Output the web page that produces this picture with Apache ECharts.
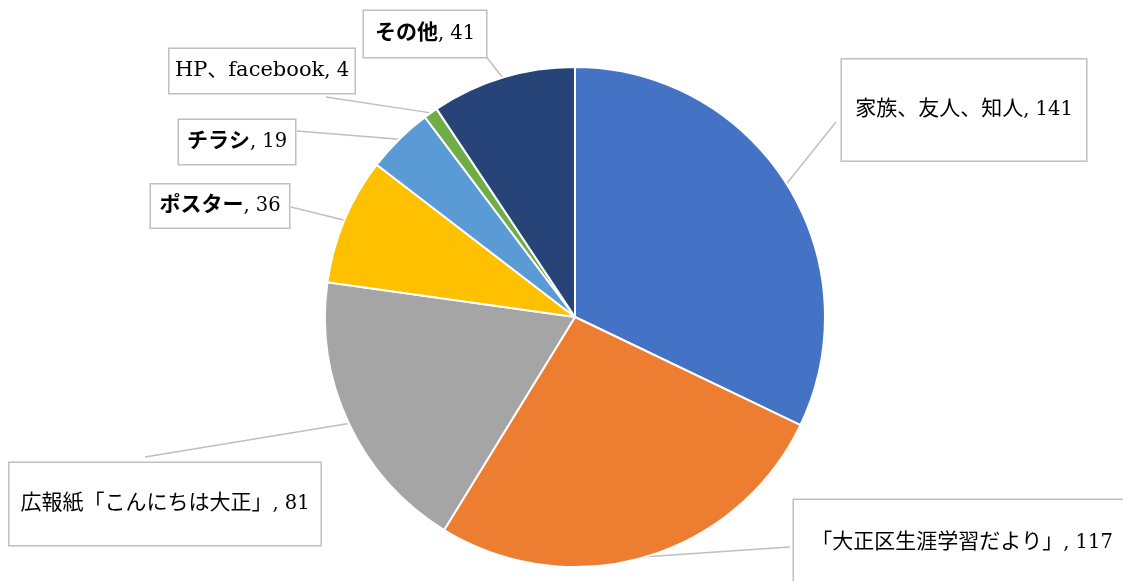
<!DOCTYPE html>
<html>
<head>
<meta charset="utf-8">
<script src="https://cdn.jsdelivr.net/npm/echarts@6/dist/echarts.min.js"></script>
<style>
  html, body { margin: 0; padding: 0; background: #fff; }
  #chart { width: 1123px; height: 581px; }
</style>
</head>
<body>
<div id="chart"></div>
<script>
    // 項目名と件数（12時から時計回り）
    var categories = ['家族、友人、知人', '「大正区生涯学習だより」', '広報紙「こんにちは大正」', 'ポスター', 'チラシ', 'HP、facebook', 'その他'];
    var counts = [141, 117, 81, 36, 19, 4, 41];
    var colors = ['#4472C4', '#ED7D31', '#A5A5A5', '#FFC000', '#5B9BD5', '#70AD47', '#264478'];
    var boldNames = ['ポスター', 'チラシ', 'その他'];

    // ラベル枠の配置（中心・大きさ・引き出し線の終点）
    var labelBoxes = [
        {x: 964, y: 110, w: 246, h: 103, lx: 836, ly: 122},
        {x: 962, y: 543, w: 338, h: 88, lx: 790, ly: 547},
        {x: 165, y: 504, w: 313, h: 84, lx: 145, ly: 457},
        {x: 220, y: 206, w: 140, h: 45, lx: 291, ly: 207},
        {x: 237, y: 142, w: 118, h: 46, lx: 297, ly: 131},
        {x: 262, y: 71, w: 187, h: 46, lx: 326, ly: 97},
        {x: 425, y: 34, w: 124, h: 48, lx: 481, ly: 50}
    ];

    var serif = '"DejaVu Serif", "Noto Sans CJK JP", serif';
    var myChart = echarts.init(document.getElementById('chart'));
    var pieData = categories.map(function (name, i) {
        var b = labelBoxes[i];
        return {
            name: name,
            value: counts[i],
            itemStyle: {color: colors[i]},
            label: {
                width: b.w - 2,
                rich: {
                    n: {
                        fontFamily: serif,
                        fontSize: 21,
                        lineHeight: b.h - 2,
                        fontWeight: boldNames.indexOf(name) >= 0 ? 'bold' : 'normal',
                        color: '#000'
                    },
                    v: {fontFamily: serif, fontSize: 19.5, lineHeight: b.h - 2, color: '#000'}
                }
            }
        };
    });

    var option = {
        animation: false,
        series: [{
            type: 'pie',
            center: [575, 317],
            radius: 250,
            startAngle: 90,
            clockwise: true,
            data: pieData,
            itemStyle: {borderColor: '#fff', borderWidth: 2},
            label: {
                show: true,
                formatter: function (p) {
                    return '{n|' + p.name + '}{v|, ' + p.value + '}';
                },
                color: '#000',
                backgroundColor: '#fff',
                borderColor: '#bfbfbf',
                borderWidth: 1.5,
                align: 'center',
                verticalAlign: 'middle'
            },
            labelLine: {
                show: true,
                length: 4,
                length2: 4,
                lineStyle: {color: '#bfbfbf', width: 1.5}
            },
            labelLayout: function (params) {
                var b = labelBoxes[params.dataIndex];
                var start = params.labelLinePoints ? params.labelLinePoints[0] : [b.lx, b.ly];
                return {
                    x: b.x,
                    y: b.y,
                    align: 'center',
                    verticalAlign: 'middle',
                    labelLinePoints: [start, start, [b.lx, b.ly]]
                };
            }
        }]
    };
    myChart.setOption(option);
</script>
</body>
</html>
